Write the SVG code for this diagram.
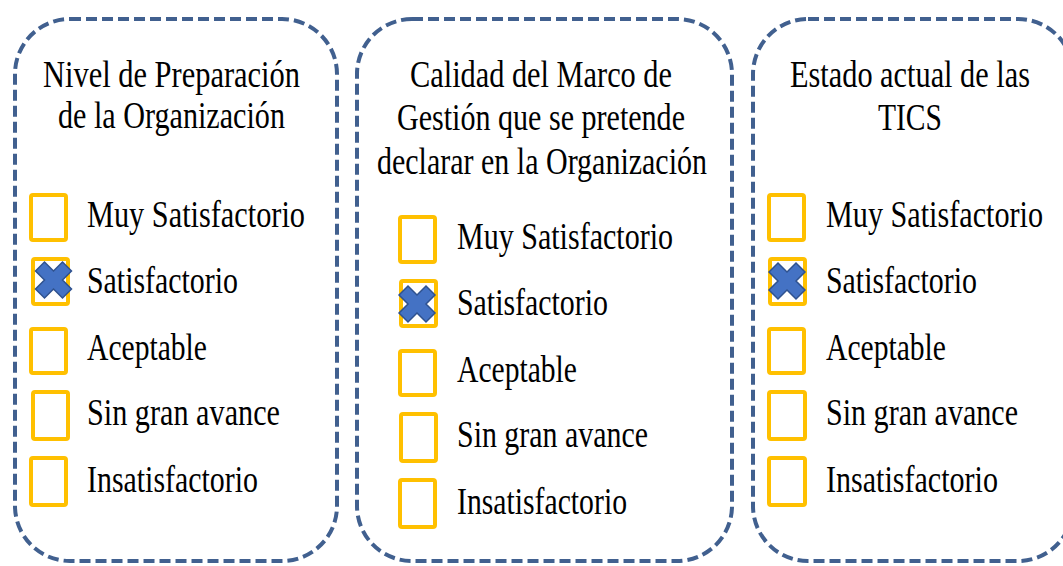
<svg xmlns="http://www.w3.org/2000/svg" width="1063" height="566" viewBox="0 0 1063 566">
<style>
.frame{fill:#fff;stroke:#41608F;stroke-width:4;stroke-dasharray:11 5}
.cb{fill:none;stroke:#FFC000;stroke-width:4}
.mark{fill:#4472C4;stroke:#2F528F;stroke-width:1.5;stroke-linejoin:miter}
.lbl{font-family:'Liberation Serif','Times New Roman',serif;font-size:37px;fill:#000}
.t{text-anchor:middle}
</style>
<defs>
<polygon id="x" points="-18,-9 -9,-18 0,-9 9,-18 18,-9 9,0 18,9 9,18 0,9 -9,18 -18,9 -9,0"/>
</defs>
<rect width="1063" height="566" fill="#fff"/>
<g id="node-preparacion">
<rect class="frame" x="15" y="19" width="322" height="542" rx="55"/>
<rect class="cb" x="31" y="195" width="35" height="45" rx="2"/>
<rect class="cb" x="33" y="259" width="35" height="45" rx="2"/>
<rect class="cb" x="31" y="329" width="35" height="44" rx="2"/>
<rect class="cb" x="33" y="392" width="35" height="47" rx="2"/>
<rect class="cb" x="31" y="458" width="35" height="47" rx="2"/>
<use href="#x" class="mark" x="53.5" y="280"/>
<g class="lbl" font-family="Liberation Serif, serif">
<text class="t" x="171.5" y="87" textLength="257" lengthAdjust="spacingAndGlyphs">Nivel de Preparación</text>
<text class="t" x="171.5" y="128" textLength="227" lengthAdjust="spacingAndGlyphs">de la Organización</text>
<text x="87" y="227" textLength="218" lengthAdjust="spacingAndGlyphs">Muy Satisfactorio</text>
<text x="87" y="293" textLength="151" lengthAdjust="spacingAndGlyphs">Satisfactorio</text>
<text x="87" y="360" textLength="120" lengthAdjust="spacingAndGlyphs">Aceptable</text>
<text x="87" y="425" textLength="193" lengthAdjust="spacingAndGlyphs">Sin gran avance</text>
<text x="87" y="492" textLength="171" lengthAdjust="spacingAndGlyphs">Insatisfactorio</text>
</g>
</g>
<g id="node-marco">
<rect class="frame" x="357" y="19" width="375" height="542" rx="55"/>
<rect class="cb" x="400" y="217" width="35" height="45" rx="2"/>
<rect class="cb" x="401" y="281" width="35" height="45" rx="2"/>
<rect class="cb" x="400" y="351" width="35" height="44" rx="2"/>
<rect class="cb" x="401" y="414" width="35" height="47" rx="2"/>
<rect class="cb" x="400" y="480" width="35" height="47" rx="2"/>
<use href="#x" class="mark" x="417" y="304"/>
<g class="lbl" font-family="Liberation Serif, serif">
<text class="t" x="541" y="87" textLength="262" lengthAdjust="spacingAndGlyphs">Calidad del Marco de</text>
<text class="t" x="541" y="130" textLength="288" lengthAdjust="spacingAndGlyphs">Gestión que se pretende</text>
<text class="t" x="542" y="174" textLength="330" lengthAdjust="spacingAndGlyphs">declarar en la Organización</text>
<text x="457" y="249" textLength="216" lengthAdjust="spacingAndGlyphs">Muy Satisfactorio</text>
<text x="457" y="315" textLength="151" lengthAdjust="spacingAndGlyphs">Satisfactorio</text>
<text x="457" y="382" textLength="120" lengthAdjust="spacingAndGlyphs">Aceptable</text>
<text x="457" y="447" textLength="191" lengthAdjust="spacingAndGlyphs">Sin gran avance</text>
<text x="457" y="514" textLength="170" lengthAdjust="spacingAndGlyphs">Insatisfactorio</text>
</g>
</g>
<g id="node-tics">
<rect class="frame" x="753" y="19" width="320" height="542" rx="55"/>
<rect class="cb" x="769" y="195" width="35" height="45" rx="2"/>
<rect class="cb" x="770" y="259" width="35" height="45" rx="2"/>
<rect class="cb" x="769" y="329" width="35" height="44" rx="2"/>
<rect class="cb" x="769" y="392" width="36" height="47" rx="2"/>
<rect class="cb" x="769" y="458" width="36" height="47" rx="2"/>
<use href="#x" class="mark" x="787" y="281"/>
<g class="lbl" font-family="Liberation Serif, serif">
<text class="t" x="910" y="87" textLength="240" lengthAdjust="spacingAndGlyphs">Estado actual de las</text>
<text class="t" x="910" y="130" textLength="64" lengthAdjust="spacingAndGlyphs">TICS</text>
<text x="826" y="227" textLength="217" lengthAdjust="spacingAndGlyphs">Muy Satisfactorio</text>
<text x="826" y="293" textLength="151" lengthAdjust="spacingAndGlyphs">Satisfactorio</text>
<text x="826" y="360" textLength="120" lengthAdjust="spacingAndGlyphs">Aceptable</text>
<text x="826" y="425" textLength="192" lengthAdjust="spacingAndGlyphs">Sin gran avance</text>
<text x="826" y="492" textLength="172" lengthAdjust="spacingAndGlyphs">Insatisfactorio</text>
</g>
</g>
<g id="connectors"/>
</svg>
